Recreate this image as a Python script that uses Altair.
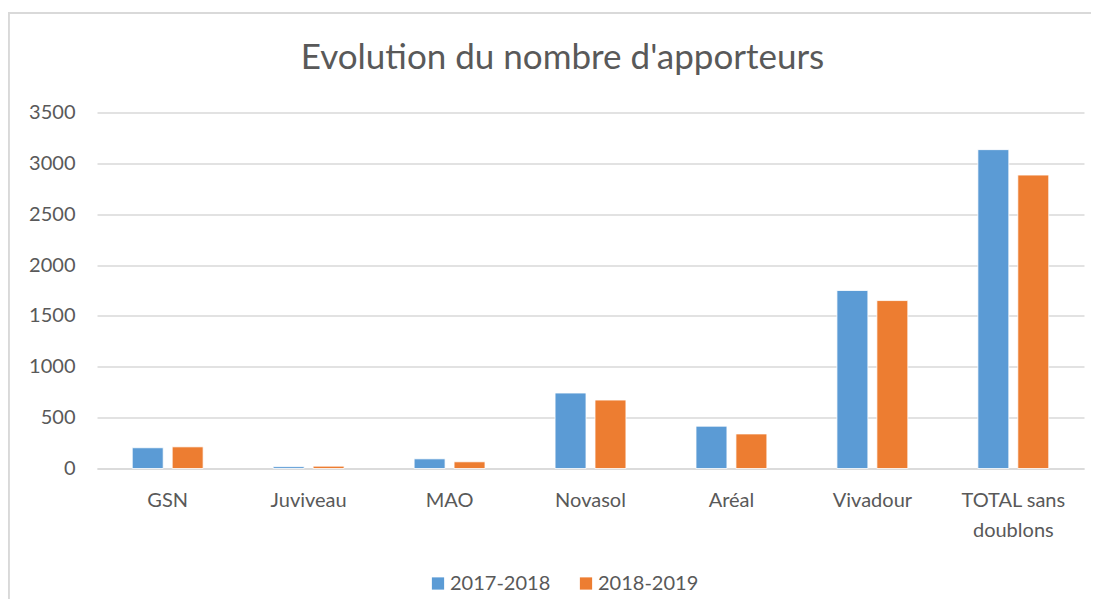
import altair as alt
import pandas as pd

categories = ["GSN", "Juviveau", "MAO", "Novasol", "Aréal", "Vivadour", "TOTAL sans doublons"]
series_names = ["2017-2018", "2018-2019"]
values_2017_2018 = [204, 18, 95, 742, 416, 1750, 3135]
values_2018_2019 = [213, 23, 66, 673, 340, 1651, 2885]
y_ticks = [0, 500, 1000, 1500, 2000, 2500, 3000, 3500]
colors = ["#5B9BD5", "#ED7D31"]

rows = []
for c, a, b in zip(categories, values_2017_2018, values_2018_2019):
    rows.append({"cat": c, "serie": series_names[0], "val": a})
    rows.append({"cat": c, "serie": series_names[1], "val": b})
df = pd.DataFrame(rows)

FONT = "Lato"
GREY = "#595959"
FS = 20

bars = alt.Chart(df).mark_bar(stroke="white", strokeWidth=0.8).encode(
    x=alt.X("cat:N", sort=categories, title=None,
            scale=alt.Scale(paddingInner=0.497, paddingOuter=0.25),
            axis=alt.Axis(labelAngle=0, ticks=False, domain=True, domainColor="#d9d9d9",
                          domainWidth=1.3, labelPadding=22, labelFontSize=FS,
                          labelColor=GREY, labelFont=FONT, labelLineHeight=30,
                          labelExpr="datum.label == 'TOTAL sans doublons' ? ['TOTAL sans', 'doublons'] : datum.label")),
    xOffset=alt.XOffset("serie:N", sort=series_names,
                        scale=alt.Scale(paddingInner=0.225, paddingOuter=0)),
    y=alt.Y("val:Q", title=None,
            scale=alt.Scale(domain=[0, 3500], nice=False),
            axis=alt.Axis(values=y_ticks, format="d", ticks=False, domain=False, grid=True,
                          gridColor="#d9d9d9", gridWidth=1.3, labelPadding=22,
                          labelFontSize=FS, labelColor=GREY, labelFont=FONT)),
    color=alt.Color("serie:N", sort=series_names,
                    scale=alt.Scale(domain=series_names, range=colors),
                    legend=alt.Legend(title=None, orient="none", direction="horizontal",
                                      legendX=331, legendY=461, symbolType="square",
                                      symbolSize=150, symbolStrokeWidth=0,
                                      labelFontSize=FS, labelColor=GREY, labelFont=FONT,
                                      columnPadding=25, labelOffset=2)),
)

border_top = alt.Chart(df).mark_rule(color="#d9d9d9", strokeWidth=1.5).encode(
    x=alt.value(-89), x2=alt.value(994), y=alt.value(-99.5)
)
border_left = alt.Chart(df).mark_rule(color="#d9d9d9", strokeWidth=1.5).encode(
    x=alt.value(-88.5), y=alt.value(-99.5), y2=alt.value(520)
)

chart = alt.layer(border_top, border_left, bars).properties(
    width=987,
    height=356,
    autosize=alt.AutoSizeParams(type="none"),
    padding={"left": 89, "top": 104.5, "right": 8, "bottom": 130},
    title=alt.TitleParams("Evolution du nombre d'apporteurs", font=FONT, fontSize=35,
                          fontWeight="normal", color=GREY, anchor="middle", offset=0,
                          dy=64, dx=-28),
).configure_view(stroke=None)

chart.save("out.html", embed_options={"renderer": "svg", "actions": False})
